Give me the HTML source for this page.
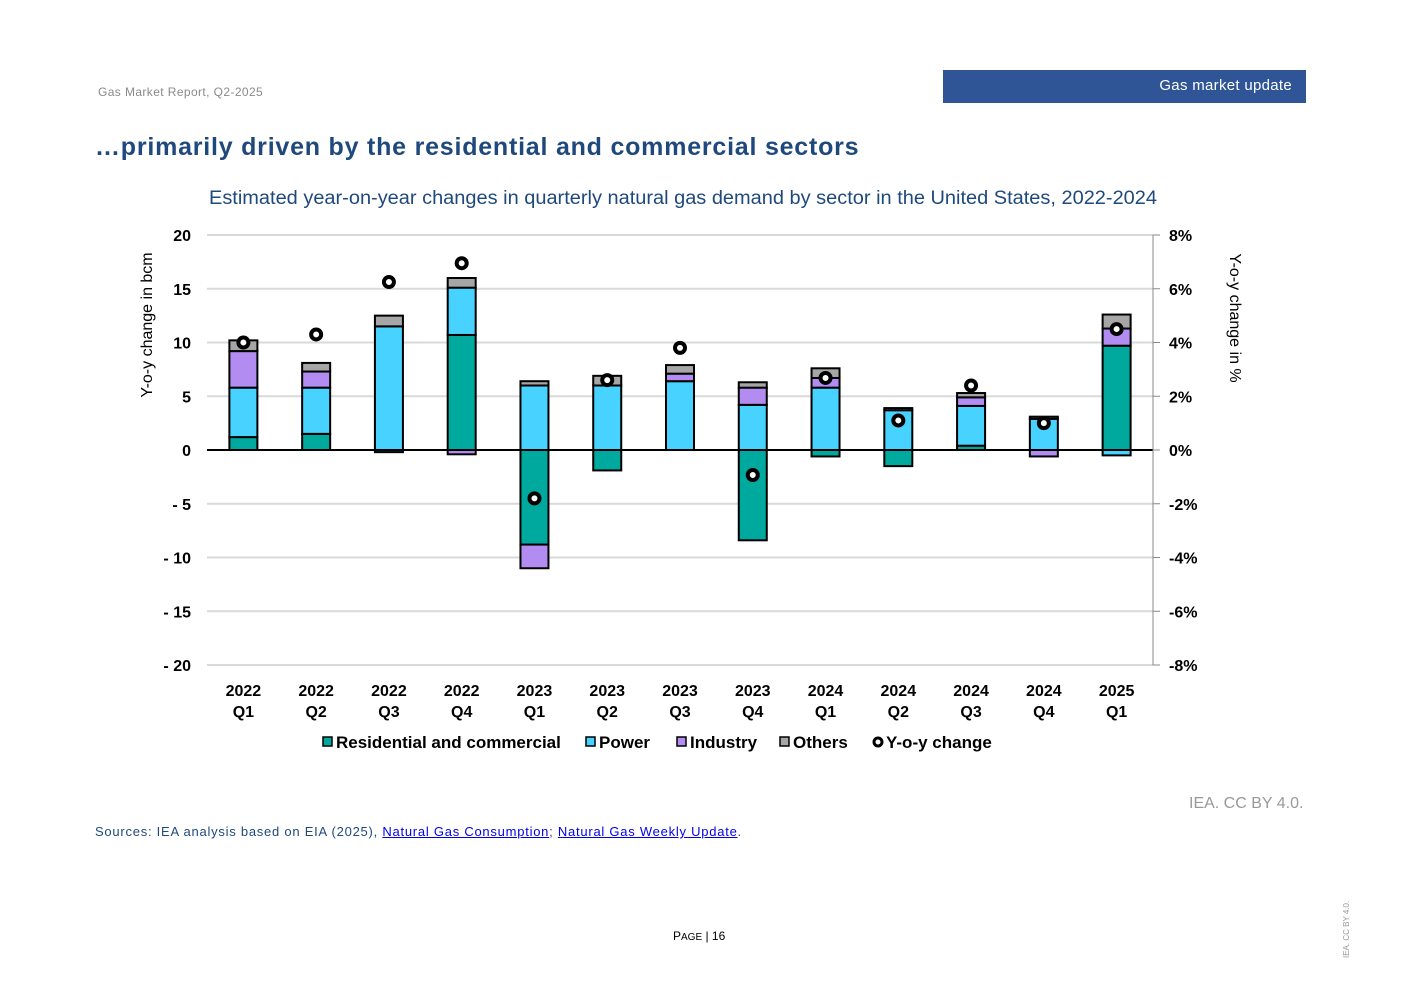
<!DOCTYPE html>
<html><head><meta charset="utf-8"><style>
body{margin:0;width:1403px;height:992px;background:#fff;font-family:"Liberation Sans",Arial,sans-serif;position:relative;overflow:hidden}
.a{position:absolute}
</style></head><body>
<div class="a" style="left:98px;top:85px;font-size:12px;color:#8a8a8a;letter-spacing:0.4px">Gas Market Report, Q2-2025</div>
<div class="a" style="left:943px;top:70px;width:363px;height:33px;background:#2f5597;color:#fff;font-size:15px;line-height:31px;text-align:right;box-sizing:border-box;padding-right:14px;letter-spacing:0.3px">Gas market update</div>
<div class="a" style="left:95px;top:133px;font-size:25px;font-weight:bold;color:#1f497d;letter-spacing:0.78px">…primarily driven by the residential and commercial sectors</div>
<svg class="a" style="left:0;top:0" width="1403" height="992">
<text x="209" y="204" textLength="948" lengthAdjust="spacingAndGlyphs" font-size="19" fill="#1f497d">Estimated year-on-year changes in quarterly natural gas demand by sector in the United States, 2022-2024</text>
<g id="grid"></g><g id="bars"></g><g id="dots"></g>
<text transform="translate(152,325) rotate(-90)" text-anchor="middle" font-size="16" font-weight="bold" style="font-weight:normal">Y-o-y change in bcm</text>
<text transform="translate(1230,318) rotate(90)" text-anchor="middle" font-size="16">Y-o-y change in %</text>
<g id="legend" font-size="17" style="font-weight:600"></g>
</svg>
<div class="a" style="left:1189px;top:795px;font-size:16px;color:#999">IEA. CC BY 4.0.</div>
<div class="a" style="left:95px;top:824px;font-size:13px;color:#1f497d;letter-spacing:0.75px">Sources: IEA analysis based on EIA (2025), <a style="color:#0000ee;text-decoration:underline">Natural Gas Consumption</a>; <a style="color:#0000ee;text-decoration:underline">Natural Gas Weekly Update</a>.</div>
<div class="a" style="left:673px;top:929px;font-size:12px">P<span style="font-size:10px">AGE</span> | 16</div>
<div class="a" style="left:1342px;top:958px;font-size:8px;color:#999;transform:rotate(-90deg);transform-origin:0 0;white-space:nowrap">IEA. CC BY 4.0.</div>
<script>
const categories=["2022 Q1","2022 Q2","2022 Q3","2022 Q4","2023 Q1","2023 Q2","2023 Q3","2023 Q4","2024 Q1","2024 Q2","2024 Q3","2024 Q4","2025 Q1"];
const residential=[1.2,1.5,-0.2,10.7,-8.8,-1.9,0,-8.4,-0.6,-1.5,0.4,0,9.7];
const power=[4.6,4.3,11.5,4.4,6.0,6.0,6.4,4.2,5.8,3.7,3.7,2.9,-0.5];
const industry=[3.4,1.5,0,-0.4,-2.2,0,0.7,1.6,0.9,0,0.8,-0.6,1.6];
const others=[1.0,0.8,1.0,0.9,0.4,0.9,0.8,0.5,0.9,0.2,0.4,0.2,1.3];
const yoy=[4.0,4.3,6.25,6.95,-1.8,2.6,3.8,-0.93,2.68,1.1,2.4,1.0,4.5];
const yTicks=[20,15,10,5,0,-5,-10,-15,-20];
const y2Ticks=["8%","6%","4%","2%","0%","-2%","-4%","-6%","-8%"];
const series=[["Residential and commercial",residential,"#00a99d"],["Power",power,"#47d2ff"],["Industry",industry,"#b28cf0"],["Others",others,"#a6a6a6"]];
const NS="http://www.w3.org/2000/svg";
const X0=207,X1=1153,TOP=235,BOT=665;
const y=v=>450-(v)*(BOT-TOP)/40;
const y2=p=>450-p*(BOT-TOP)/16;
const bx=i=>X0+(i+0.5)*(X1-X0)/categories.length;
function mk(t,a,p){const e=document.createElementNS(NS,t);for(const k in a)e.setAttribute(k,a[k]);p.appendChild(e);return e;}
const g=document.getElementById('grid');
yTicks.forEach((v,i)=>{
 const l=mk('line',{x1:X0,x2:X1,y1:y(v),y2:y(v),stroke:v===0?'#000':'#d9d9d9','stroke-width':2},g);
 
 
 const t=mk('text',{x:191,y:y(v)+6,'text-anchor':'end','font-size':16,style:'font-weight:600'},g);t.textContent=v<0?'- '+(-v):String(v);
 
 
 const t2=mk('text',{x:1169,y:y(v)+6,'font-size':16,style:'font-weight:600'},g);t2.textContent=y2Ticks[i];
 
 
 mk('line',{x1:1153,x2:1160,y1:y(v),y2:y(v),stroke:'#888'},g);
});
mk('line',{x1:1153,x2:1153,y1:TOP,y2:BOT,stroke:'#888'},g);
const b=document.getElementById('bars');
categories.forEach((c,i)=>{
 let pos=0,neg=0;const cx=bx(i),w=28;
 series.forEach(s=>{const v=s[1][i];if(!v)return;let a,bb;
  if(v>0){a=pos;bb=pos+v;pos=bb;}else{a=neg;bb=neg+v;neg=bb;}
  const r=mk('rect',{x:cx-w/2,y:Math.min(y(a),y(bb)),width:w,height:Math.abs(y(a)-y(bb)),fill:s[2],stroke:'#000','stroke-width':2},b);
  
  
 });
 const parts=c.split(' ');
 const t=mk('text',{x:cx,y:696,'text-anchor':'middle','font-size':16,style:'font-weight:600'},b);t.textContent=parts[0];
 
 
 const t2=mk('text',{x:cx,y:717,'text-anchor':'middle','font-size':16,style:'font-weight:600'},b);t2.textContent=parts[1];
 
 
 const d=mk('circle',{cx:cx,cy:y2(yoy[i]),r:5,fill:'#fff',stroke:'#000','stroke-width':4},document.getElementById('dots'));
 
 
});
const lg=document.getElementById('legend');
const items=[["Residential and commercial","#00a99d",323],["Power","#47d2ff",586],["Industry","#b28cf0",677],["Others","#a6a6a6",780],["Y-o-y change",null,873]];
items.forEach(it=>{
 if(it[1]){mk('rect',{x:it[2],y:737,width:9,height:9,fill:it[1],stroke:'#000','stroke-width':1.5},lg);}
 else{mk('circle',{cx:it[2]+5,cy:742,r:4,fill:'#fff',stroke:'#000','stroke-width':3},lg);}
 const t=mk('text',{x:it[2]+13,y:748},lg);t.textContent=it[0];
 
 
});
</script>
</body></html>
